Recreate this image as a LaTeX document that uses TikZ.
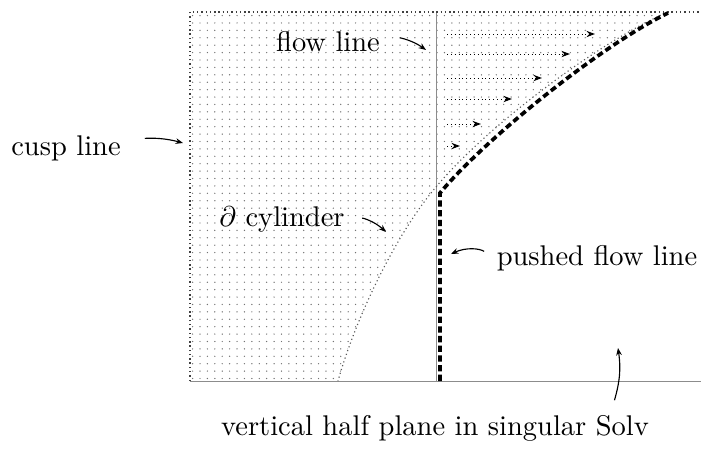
\documentclass[tikz,border=0pt]{standalone}
\usetikzlibrary{arrows.meta,patterns.meta}
\tikzset{
      frameline/.style={black!45, line width=0.35pt},
      cuspedge/.style={black!75, line width=0.5pt, densely dotted},
      flowarrow/.style={densely dotted, line width=0.35pt, -{Stealth[length=3pt,width=2.2pt]}},
      pushedline/.style={line width=1.3pt, dash pattern=on 2.2pt off 1.2pt},
      hintarrow/.style={line width=0.4pt, -{Stealth[length=2.6pt,width=2pt]}},
      lbl/.style={inner sep=1pt}
    }
\begin{document}
\begin{tikzpicture}[x=0.351pt,y=0.351pt]
    \useasboundingbox (0,0) rectangle (701,460);
    % dotted part of the half plane
    \fill[pattern={Dots[distance=2.6pt,radius=0.25pt]}, pattern color=black!55]
      (190,448) -- (668,448) .. controls (598,418) and (485,332) .. (436,273)
      .. controls (395,225) and (355,140) .. (338,79) -- (190,79) -- cycle;
    \draw[frameline] (190,79) -- (701,79);
    \draw[frameline] (436,79) -- (436,448);
    \draw[cuspedge] (190,79) -- (190,448) -- (701,448);
    \draw[black!65, line width=0.4pt, densely dotted] (668,448) .. controls (598,418) and (485,332) .. (436,273)
      .. controls (395,225) and (355,140) .. (338,79);
    \draw[pushedline] (440,79) -- (440,267) .. controls (484,320) and (600,414) .. (668,447);
    \foreach \y/\xend in {426/595,406/570,382/542,361/512,336/481,314/460}
      \draw[flowarrow] (447,\y) -- (\xend,\y);
    % labels
    \node[lbl] (flowlbl) at (328,418) {flow line};
    \node[lbl] (cusplbl) at (66,312) {cusp line};
    \node[lbl] (cyllbl) at (282,240) {$\partial$ cylinder};
    \node[lbl] (pushlbl) at (597,202) {pushed flow line};
    \node[lbl] (vertlbl) at (435,32) {vertical half plane in singular Solv};
    \coordinate (flowtip) at (426,410);
    \coordinate (cusptip) at (183,317);
    \coordinate (cyltip) at (386,228);
    \coordinate (pushtip) at (451,206);
    \coordinate (verttip) at (618,112);
    \draw[hintarrow, shorten <=6pt] (flowlbl.east) to[bend left=25] (flowtip);
    \draw[hintarrow, shorten <=8pt] (cusplbl.east) to[bend left=20] (cusptip);
    \draw[hintarrow, shorten <=5pt] (cyllbl.east) to[bend left=25] (cyltip);
    \draw[hintarrow, shorten <=4pt] (pushlbl.west) to[bend right=30] (pushtip);
    \draw[hintarrow] ([xshift=63pt,yshift=4pt]vertlbl.north) to[bend right=12] (verttip);
    \end{tikzpicture}
\end{document}
